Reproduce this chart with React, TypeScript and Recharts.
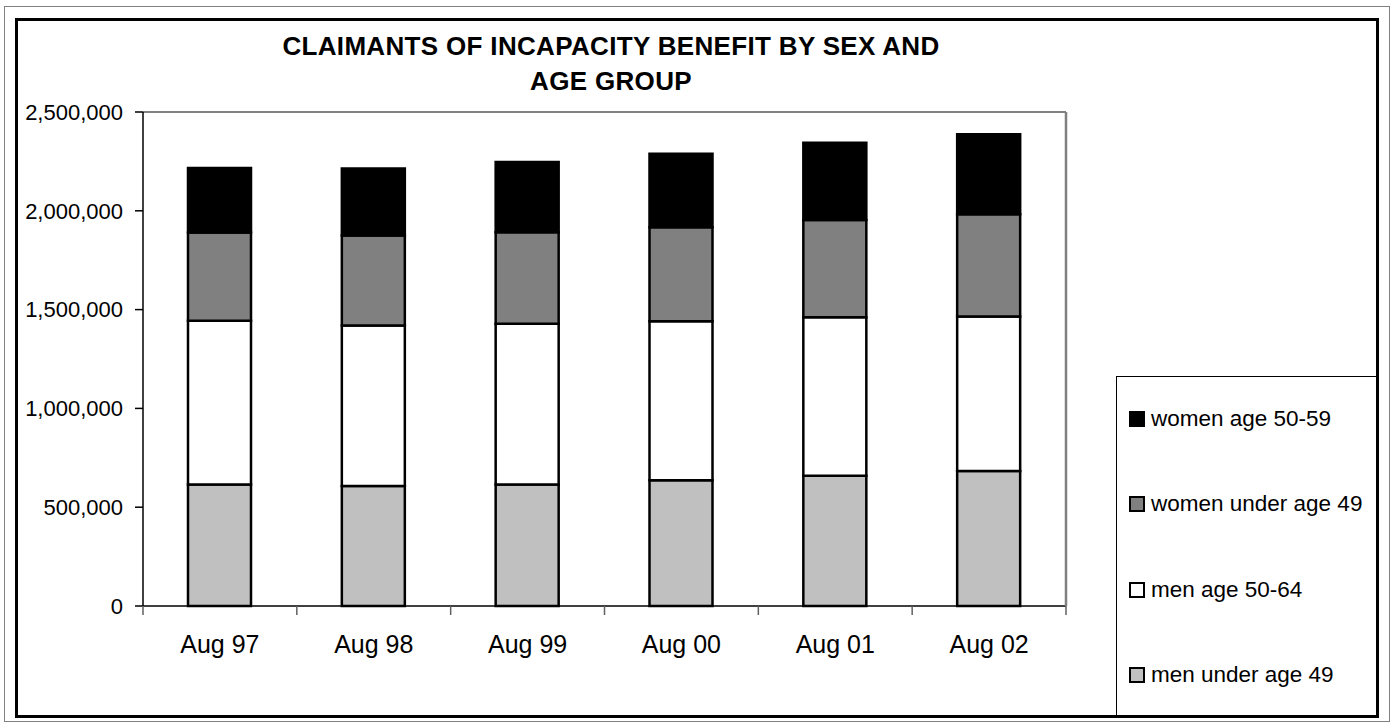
import React from 'react';
import { BarChart, Bar, XAxis, YAxis } from 'recharts';

const months = ['Aug 97', 'Aug 98', 'Aug 99', 'Aug 00', 'Aug 01', 'Aug 02'];
const menUnder49 = [615000, 607000, 615000, 637000, 659000, 683000];
const men50to64 = [828000, 812000, 813000, 804000, 802000, 782000];
const womenUnder49 = [447000, 456000, 464000, 476000, 493000, 518000];
const women50to59 = [327000, 339000, 355000, 372000, 391000, 405000];
const yTicks = [0, 500000, 1000000, 1500000, 2000000, 2500000];

const series = [
  { key: 'menUnder49', name: 'men under age 49', color: '#C0C0C0' },
  { key: 'men50to64', name: 'men age 50-64', color: '#FFFFFF' },
  { key: 'womenUnder49', name: 'women under age 49', color: '#808080' },
  { key: 'women50to59', name: 'women age 50-59', color: '#000000' },
];

const data = months.map((name, i) => ({
  name,
  menUnder49: menUnder49[i],
  men50to64: men50to64[i],
  womenUnder49: womenUnder49[i],
  women50to59: women50to59[i],
}));

const font = '"Liberation Sans", Arial, sans-serif';
const fmt = (v: number) => v.toLocaleString('en-US');

// category label plus Excel-style tick marks on the category boundaries
const MonthTick = (props: any) => {
  const { x, y, payload, index, visibleTicksCount } = props;
  const half = payload && payload.offset ? payload.offset : 0;
  const last = index === (visibleTicksCount ?? months.length) - 1;
  return (
    <g>
      <line x1={x - half} x2={x - half} y1={y} y2={y + 9} stroke="#606060" strokeWidth={1.5} />
      {last && <line x1={x + half} x2={x + half} y1={y} y2={y + 9} stroke="#606060" strokeWidth={1.5} />}
      <text x={x} y={y + 29} dy="0.71em" textAnchor="middle" fill="#000" fontSize={25} fontFamily={font}>
        {payload.value}
      </text>
    </g>
  );
};

const App = () => {
  return (
    <div style={{ position: 'absolute', left: 0, top: 0, width: 1396, height: 722, background: '#fff', fontFamily: font }}>
      {/* outer frames */}
      <div style={{ position: 'absolute', left: 4, top: 6, width: 1384, height: 714, border: '1px solid #808080' }} />
      <div style={{ position: 'absolute', left: 15, top: 18, width: 1358, height: 694, border: '3px solid #000' }} />

      <div style={{ position: 'absolute', left: 0, top: 33, width: 1222, textAlign: 'center', fontSize: 26, lineHeight: '26px', fontWeight: 'bold', letterSpacing: 0.33, whiteSpace: 'nowrap' }}>
        CLAIMANTS OF INCAPACITY BENEFIT BY SEX AND
      </div>
      <div style={{ position: 'absolute', left: 0, top: 68, width: 1222, textAlign: 'center', fontSize: 26, lineHeight: '26px', fontWeight: 'bold', letterSpacing: 0.33, whiteSpace: 'nowrap' }}>
        AGE GROUP
      </div>

      <div style={{ position: 'absolute', left: 0, top: 0 }}>
        <BarChart width={1396} height={722} data={data} margin={{ top: 111, right: 329, bottom: 115, left: 0 }}>
          <XAxis
            dataKey="name"
            height={1}
            interval={0}
            axisLine={{ stroke: '#000', strokeWidth: 1.5 }}
            tickLine={false}
            tickSize={0}
            tickMargin={0}
            tick={<MonthTick />}
          />
          <XAxis
            xAxisId="top"
            orientation="top"
            dataKey="name"
            height={1}
            axisLine={{ stroke: '#808080', strokeWidth: 2 }}
            tickLine={false}
            tick={false}
          />
          <YAxis
            width={143}
            domain={[0, 2500000]}
            ticks={yTicks}
            tickFormatter={fmt}
            axisLine={{ stroke: '#000', strokeWidth: 1.5 }}
            tickLine={{ stroke: '#000', strokeWidth: 1.5 }}
            tickSize={8}
            tickMargin={12}
            tick={{ fill: '#000', fontSize: 22, fontFamily: font }}
          />
          <YAxis
            yAxisId="right"
            orientation="right"
            type="number"
            domain={[0, 1]}
            width={1}
            axisLine={{ stroke: '#808080', strokeWidth: 2.5 }}
            tickLine={false}
            tick={false}
          />
          {series.map((s) => (
            <Bar
              key={s.key}
              dataKey={s.key}
              name={s.name}
              stackId="a"
              fill={s.color}
              stroke="#000"
              strokeWidth={2.5}
              barSize={63}
              isAnimationActive={false}
            />
          ))}
        </BarChart>
      </div>

      {/* legend */}
      <div style={{ position: 'absolute', left: 1116, top: 376, width: 260, height: 341, borderLeft: '1px solid #000', borderTop: '1px solid #000', boxSizing: 'border-box' }}>
        {[...series].reverse().map((s, i) => (
          <div key={s.key} style={{ position: 'absolute', left: 12, top: 42 + i * 85.3 - 14, height: 28, display: 'flex', alignItems: 'center', whiteSpace: 'nowrap' }}>
            <span style={{ display: 'inline-block', width: 12, height: 12, background: s.color, border: '2px solid #000', marginRight: 6 }} />
            <span style={{ fontSize: 22.5, color: '#000' }}>{s.name}</span>
          </div>
        ))}
      </div>
    </div>
  );
};

export default App;
